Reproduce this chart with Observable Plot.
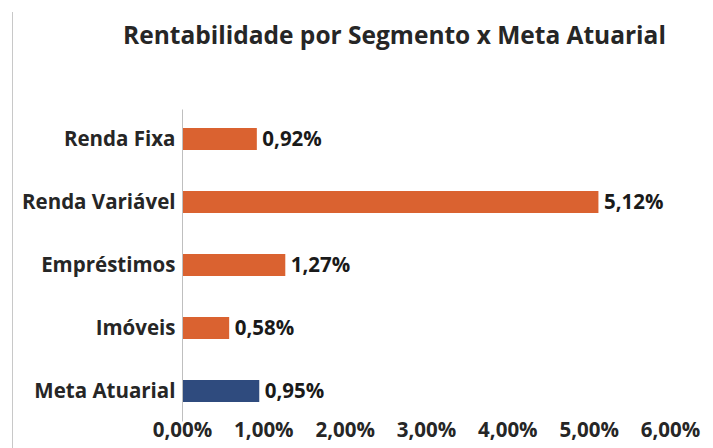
<!DOCTYPE html>
<html>
<head>
<meta charset="utf-8">
<script src="https://cdn.jsdelivr.net/npm/d3@7"></script>
<script src="https://cdn.jsdelivr.net/npm/@observablehq/plot@0.6"></script>
<style>
  html, body { margin: 0; padding: 0; background: #fff; }
  #wrap { position: relative; width: 713px; height: 448px; overflow: hidden; font-family: "Open Sans", sans-serif; }
  #title { position: absolute; left: 0; width: 713px; top: 18px; text-align: center; padding-left: 76px; box-sizing: border-box;
           font-size: 24.5px; font-weight: 700; color: #262626; font-family: "Open Sans", sans-serif; white-space: nowrap; }
  #border { position: absolute; left: 12px; top: 12px; width: 1px; height: 440px; background: #c8c8c8; }
  #wrap svg { position: absolute; left: 0; top: 0; }
</style>
</head>
<body>
<div id="wrap">
  <div id="border"></div>
  <div id="title">Rentabilidade por Segmento x Meta Atuarial</div>
</div>
<script>
const categories = ["Renda Fixa", "Renda Variável", "Empréstimos", "Imóveis", "Meta Atuarial"];
const values = [0.92, 5.12, 1.27, 0.58, 0.95];
const groups = ["Segmento", "Segmento", "Segmento", "Segmento", "Meta"];
const xTicks = [0, 1, 2, 3, 4, 5, 6];

const data = categories.map((c, i) => ({category: c, value: values[i], group: groups[i]}));
const fmt = v => v.toFixed(2).replace(".", ",") + "%";

const chart = Plot.plot({
  width: 713,
  height: 448,
  marginLeft: 182,
  marginRight: 43,
  marginTop: 109.5,
  marginBottom: 26.5,
  style: {fontFamily: "'Open Sans', sans-serif", fontWeight: 700, color: "#262626", background: "transparent"},
  x: {domain: [0, 6]},
  y: {domain: categories, paddingInner: 0.65, paddingOuter: 0.3},
  color: {domain: ["Segmento", "Meta"], range: ["#da6230", "#2f4b7e"]},
  marks: [
    Plot.barX(data, {x: "value", y: "category", fill: "group"}),
    Plot.ruleX([0], {stroke: "#bfbfbf", strokeWidth: 1}),
    Plot.text(data, {x: "value", y: "category", text: d => fmt(d.value), textAnchor: "start", dx: 5, fontSize: 20.5, fontWeight: 700, fill: "#1a1a1a"}),
    Plot.axisY({tickSize: 0, tickPadding: 7, fontSize: 20.5, fontWeight: 700, label: null, color: "#262626"}),
    Plot.axisX({ticks: xTicks, tickFormat: fmt, tickSize: 0, tickPadding: 0, fontSize: 20.5, fontWeight: 700, label: null})
  ]
});
document.getElementById("wrap").appendChild(chart);
</script>
</body>
</html>
